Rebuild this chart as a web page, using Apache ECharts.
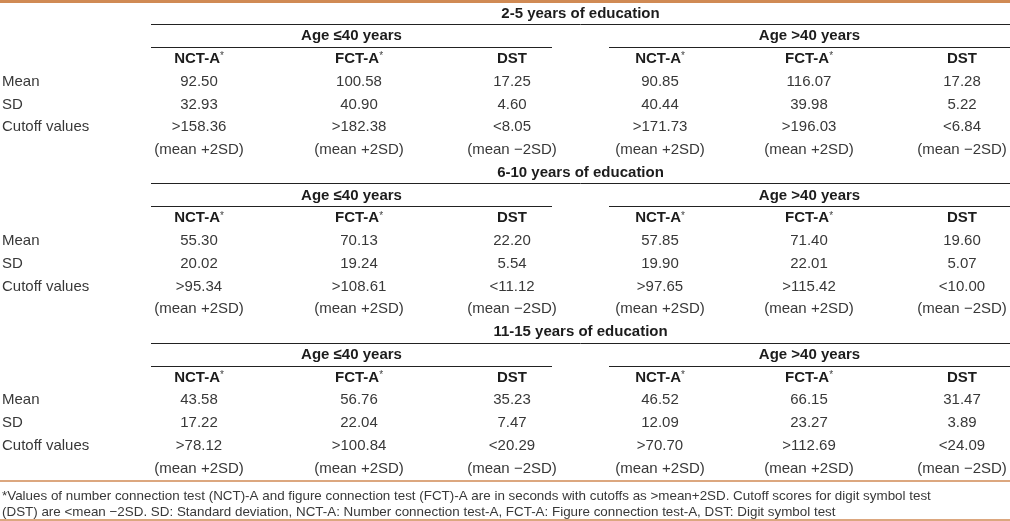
<!DOCTYPE html>
<html><head><meta charset="utf-8">
<script src="https://cdn.jsdelivr.net/npm/echarts@6/dist/echarts.min.js"></script>
<style>html,body{margin:0;padding:0;background:#fff}#c{width:1010px;height:521px}</style>
</head><body><div id="c"></div>
<script>
// ---------- data ----------
const educationGroups = ['2-5 years of education', '6-10 years of education', '11-15 years of education'];
const ageGroups = ['Age ≤40 years', 'Age >40 years'];
const tests = ['NCT-A', 'FCT-A', 'DST'];
const testStarred = [true, true, false];
const statLabels = ['Mean', 'SD', 'Cutoff values'];
const means = [
  [92.50, 100.58, 17.25, 90.85, 116.07, 17.28],
  [55.30, 70.13, 22.20, 57.85, 71.40, 19.60],
  [43.58, 56.76, 35.23, 46.52, 66.15, 31.47]
];
const sds = [
  [32.93, 40.90, 4.60, 40.44, 39.98, 5.22],
  [20.02, 19.24, 5.54, 19.90, 22.01, 5.07],
  [17.22, 22.04, 7.47, 12.09, 23.27, 3.89]
];
const cutoffs = [
  ['>158.36', '>182.38', '<8.05', '>171.73', '>196.03', '<6.84'],
  ['>95.34', '>108.61', '<11.12', '>97.65', '>115.42', '<10.00'],
  ['>78.12', '>100.84', '<20.29', '>70.70', '>112.69', '<24.09']
];
const cutoffNotes = ['(mean +2SD)', '(mean +2SD)', '(mean \u22122SD)'];
const footnotes = [
  '*Values of number connection test (NCT)-A and figure connection test (FCT)-A are in seconds with cutoffs as >mean+2SD. Cutoff scores for digit symbol test',
  '(DST) are <mean \u22122SD. SD: Standard deviation, NCT-A: Number connection test-A, FCT-A: Figure connection test-A, DST: Digit symbol test'
];

// ---------- layout ----------
const W = 1010, H = 521;
const row0 = 13.5, rowH = 22.75;
const labelX = 2;
const groupSpans = [[151, 552], [609, 1010]];
const colCenters = [199, 359, 512, 660, 809, 962];
const footY = [496, 512];
const FONT = '"Liberation Sans", Arial, Helvetica, sans-serif';

const rowY = r => row0 + r * rowH;
const cells = [];
const rules = [];
function cell(x, y, text, kind, align) { cells.push({ x, y, text, kind, align: align || 'center' }); }

educationGroups.forEach((eg, b) => {
  const base = b * 7;
  cell((groupSpans[0][0] + groupSpans[1][1]) / 2, rowY(base), eg, 'bold');
  rules.push([groupSpans[0][0], Math.round(rowY(base) + 10.5) + 0.5, groupSpans[1][1], 0]);
  ageGroups.forEach((ag, g) => {
    cell((groupSpans[g][0] + groupSpans[g][1]) / 2, rowY(base + 1), ag, 'bold');
    rules.push([groupSpans[g][0], Math.round(rowY(base + 1) + 10.75) + 0.5, groupSpans[g][1], 0]);
    tests.forEach((t, k) => {
      const col = g * 3 + k;
      cell(colCenters[col], rowY(base + 2), testStarred[k] ? t + '{s|*}' : t, 'head');
      cell(colCenters[col], rowY(base + 3), means[b][col].toFixed(2), 'body');
      cell(colCenters[col], rowY(base + 4), sds[b][col].toFixed(2), 'body');
      cell(colCenters[col], rowY(base + 5), cutoffs[b][col], 'body');
      cell(colCenters[col], rowY(base + 6), cutoffNotes[k], 'body');
    });
  });
  statLabels.forEach((s, i) => cell(labelX, rowY(base + 3 + i), s, 'body', 'left'));
});
footnotes.forEach((f, i) => cell(labelX, footY[i], f, 'foot', 'left'));

// orange rules
rules.push([0, 1.5, W, 1]);
rules.push([0, 481, W, 2]);
rules.push([0, 520, W, 2]);

const textStyles = {
  bold: { fontSize: 15, fontWeight: 'bold', fill: '#1c1c1c' },
  head: { fontSize: 15, fontWeight: 'bold', fill: '#1c1c1c',
          rich: { s: { fontSize: 10, fontWeight: 'normal', fill: '#444', verticalAlign: 'top', fontFamily: FONT } } },
  body: { fontSize: 15, fontWeight: 'normal', fill: '#383838' },
  foot: { fontSize: 13.4, fontWeight: 'normal', fill: '#383838' }
};
const ruleStyles = [
  { stroke: '#222', lineWidth: 1 },
  { stroke: '#D08A54', lineWidth: 3 },
  { stroke: '#D08A54', lineWidth: 1.5 }
];

const chart = echarts.init(document.getElementById('c'), null, { renderer: 'canvas' });
chart.setOption({
  animation: false,
  backgroundColor: '#fff',
  grid: { left: 0, right: 0, top: 0, bottom: 0, containLabel: false },
  xAxis: { type: 'value', min: 0, max: W, show: false },
  yAxis: { type: 'value', min: 0, max: H, inverse: true, show: false },
  series: [
    {
      type: 'custom', clip: false, silent: true,
      data: rules.map(r => r),
      renderItem: (params, api) => {
        const p1 = api.coord([api.value(0), api.value(1)]);
        const p2 = api.coord([api.value(2), api.value(1)]);
        const st = ruleStyles[api.value(3)];
        return { type: 'line', shape: { x1: p1[0], y1: p1[1], x2: p2[0], y2: p2[1] }, style: { stroke: st.stroke, lineWidth: st.lineWidth } };
      }
    },
    {
      type: 'custom', clip: false, silent: true,
      data: cells.map((c, i) => [c.x, c.y, i]),
      renderItem: (params, api) => {
        const c = cells[api.value(2)];
        const p = api.coord([api.value(0), api.value(1)]);
        const s = textStyles[c.kind];
        return {
          type: 'text', x: p[0], y: p[1],
          style: Object.assign({ text: c.text, fontFamily: FONT, align: c.align, verticalAlign: 'middle' }, s)
        };
      }
    }
  ]
});
</script></body></html>
